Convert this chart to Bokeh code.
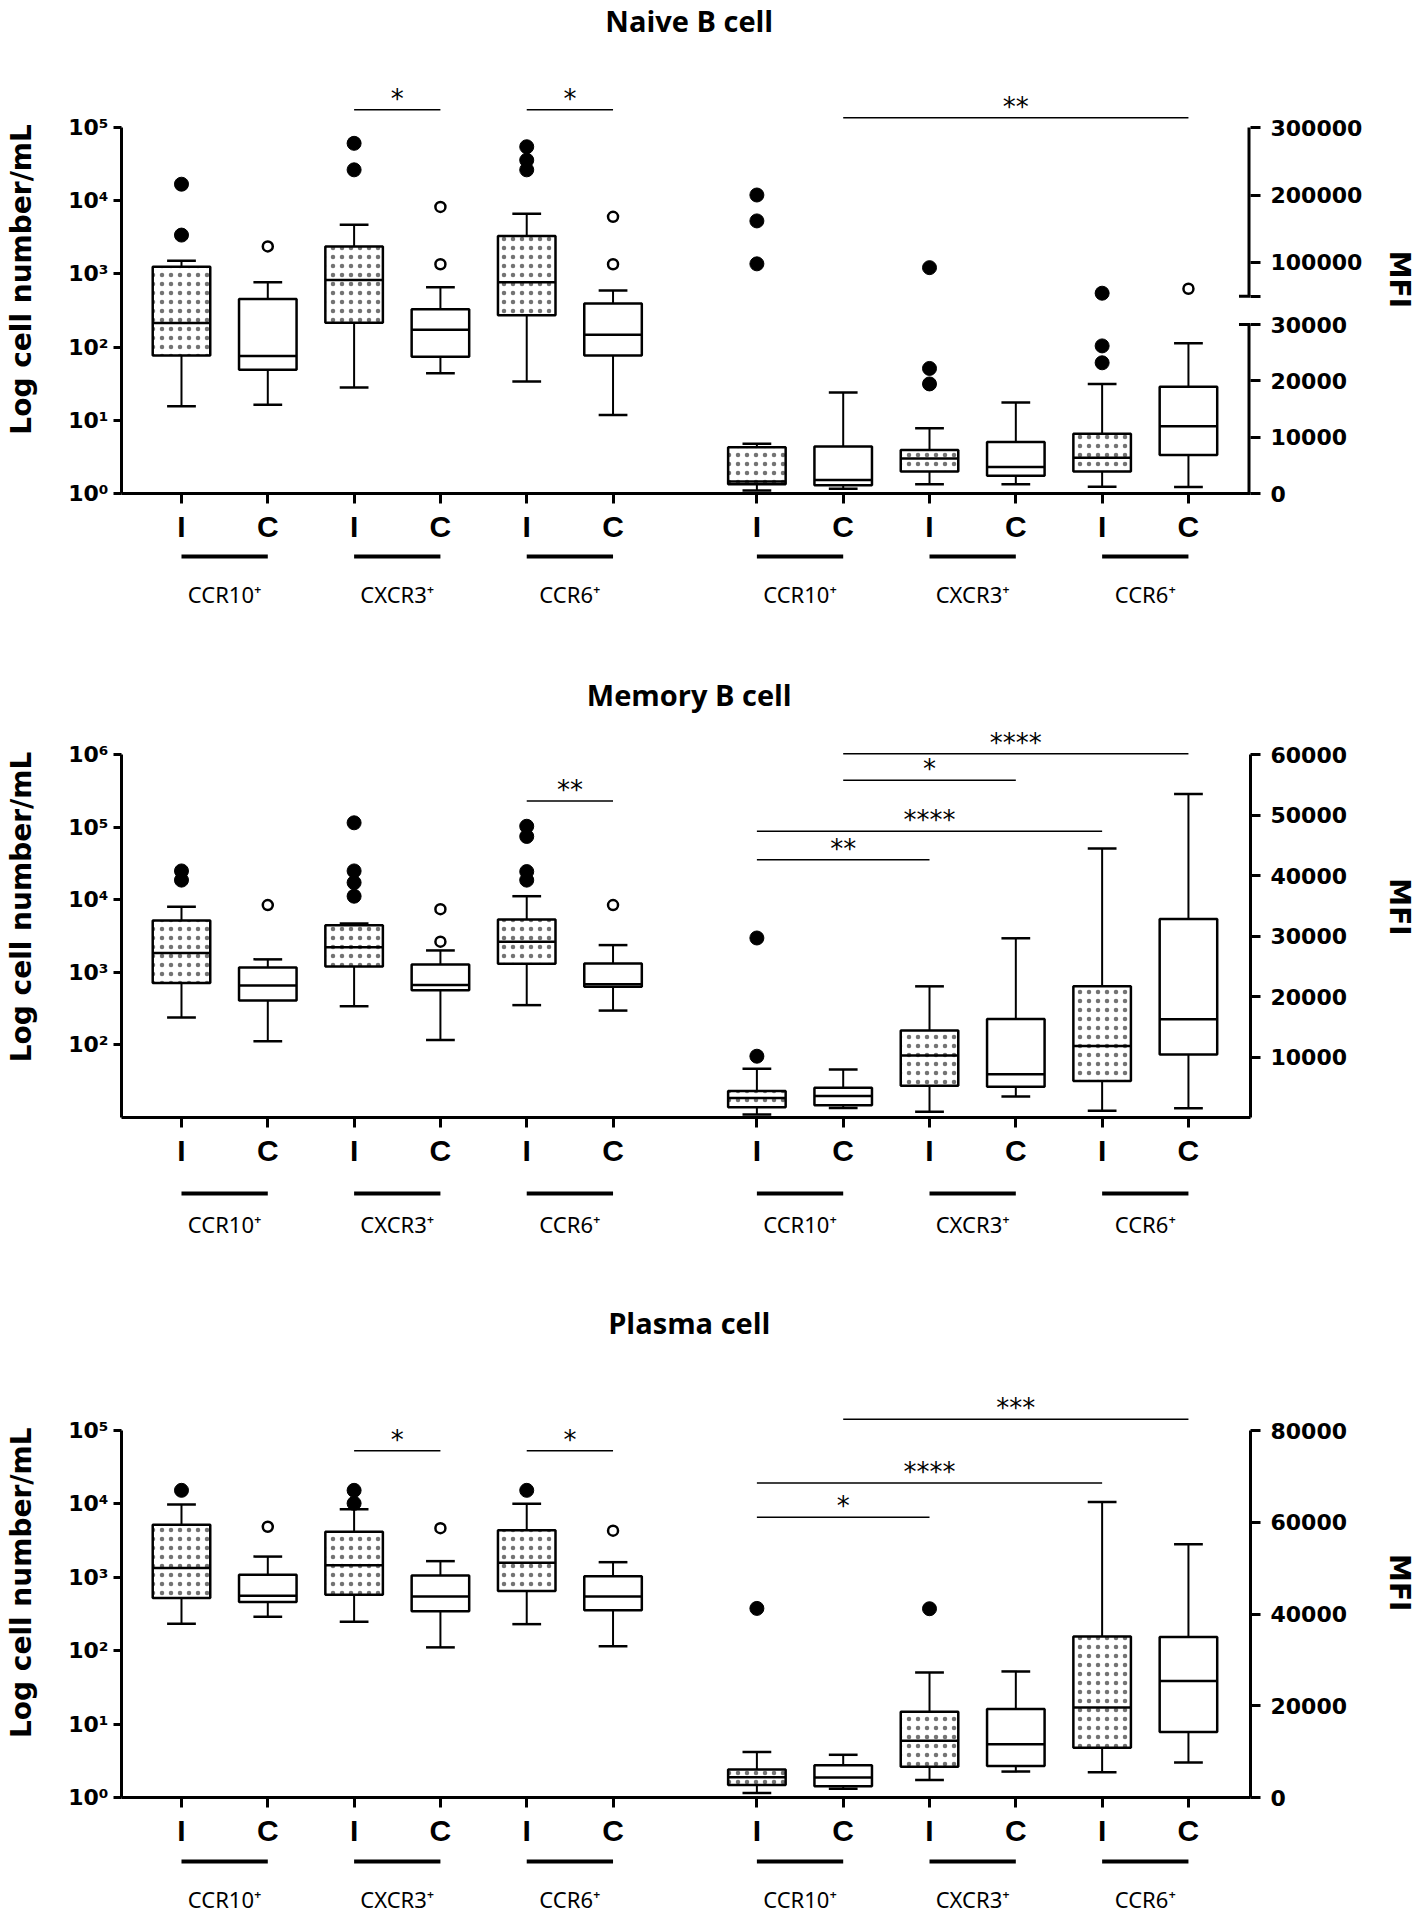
import math
from bokeh.plotting import figure
from bokeh.models import Range1d, LinearAxis, FixedTicker, ColumnDataSource, LinearScale
from bokeh.layouts import column, row
from bokeh.core.properties import value
from bokeh.embed import file_html
from bokeh.resources import INLINE

# ---------------- data ----------------
groups = ["CCR10⁺", "CXCR3⁺", "CCR6⁺"]
conditions = ["I", "C"]
titles = ["Naive B cell", "Memory B cell", "Plasma cell"]
y_title = "Log cell number/mL"
y2_title = "MFI"

# Naive B cell - cell number (log)   order: CCR10 I, CCR10 C, CXCR3 I, CXCR3 C, CCR6 I, CCR6 C
naive_cnt_lo = [15.6, 16.3, 28, 44, 34, 11.8]
naive_cnt_q1 = [77, 49, 215, 74, 273, 77]
naive_cnt_med = [213, 75.5, 823, 173, 771, 148]
naive_cnt_q3 = [1255, 454, 2376, 328, 3283, 395]
naive_cnt_hi = [1507, 771, 4690, 656, 6630, 595]
naive_cnt_out = [[16800, 3390], [2376], [60800, 26400], [8230, 1353], [54600, 35800, 26400], [6020, 1353]]
# Naive B cell - MFI
naive_mfi_lo = [550, 850, 1650, 1650, 1220, 1160]
naive_mfi_q1 = [1650, 1460, 3900, 3170, 3900, 6830]
naive_mfi_med = [2130, 2380, 6220, 4700, 6340, 11950]
naive_mfi_q3 = [8230, 8350, 7740, 9150, 10610, 18960]
naive_mfi_hi = [8840, 17930, 11590, 16160, 19450, 26650]
naive_mfi_out = [[200000, 161600, 98000], [], [92400, 22200, 19450], [], [54500, 26200, 23200], [61100]]

# Memory B cell - cell number (log)
mem_cnt_lo = [239, 112, 341, 117, 353, 297]
mem_cnt_q1 = [713, 410, 1200, 568, 1310, 631]
mem_cnt_med = [1850, 660, 2220, 668, 2640, 683]
mem_cnt_q3 = [5170, 1161, 4450, 1280, 5350, 1320]
mem_cnt_hi = [7980, 1507, 4700, 2000, 11170, 2370]
mem_cnt_out = [[24900, 18600], [8430], [114600, 24900, 17200, 11170], [7400, 2640],
               [102700, 74300, 24400, 18600], [8430]]
# Memory B cell - MFI
mem_mfi_lo = [507, 1580, 960, 3490, 1130, 1520]
mem_mfi_q1 = [1690, 2030, 5240, 5070, 6020, 10420]
mem_mfi_med = [3210, 3550, 10250, 7150, 11820, 16220]
mem_mfi_q3 = [4390, 4900, 14360, 16270, 21680, 32830]
mem_mfi_hi = [8050, 7940, 21680, 29620, 44480, 53490]
mem_mfi_out = [[29670, 10130], [], [], [], [], []]

# Plasma cell - cell number (log)
pc_cnt_lo = [232, 290, 248, 111, 230, 115]
pc_cnt_q1 = [524, 459, 578, 345, 653, 357]
pc_cnt_med = [1334, 560, 1456, 548, 1573, 548]
pc_cnt_q3 = [5210, 1082, 4180, 1059, 4370, 1036]
pc_cnt_hi = [9840, 1915, 8450, 1660, 10070, 1607]
pc_cnt_out = [[15300], [4880], [15300, 10180], [4670], [15300], [4320]]
# Plasma cell - MFI
pc_mfi_lo = [990, 1910, 3820, 5650, 5500, 7630]
pc_mfi_q1 = [2750, 2440, 6720, 6870, 10840, 14270]
pc_mfi_med = [4430, 4350, 12370, 11600, 19620, 25420]
pc_mfi_q3 = [6110, 7020, 18700, 19310, 35110, 34960]
pc_mfi_hi = [9920, 9310, 27250, 27480, 64430, 55190]
pc_mfi_out = [[41220], [], [41150], [], [], []]

# significance bars: boxes 0-5 = cell number, 6-11 = MFI
naive_sig_from = [2, 4, 7]
naive_sig_to = [3, 5, 11]
naive_sig_y = [175000, 175000, 314600]
naive_sig_lab = ["*", "*", "**"]
mem_sig_from = [4, 7, 7, 6, 6]
mem_sig_to = [5, 11, 9, 10, 8]
mem_sig_y = [229000, 60140, 55740, 47300, 42620]
mem_sig_lab = ["**", "****", "*", "****", "**"]
pc_sig_from = [2, 4, 7, 6, 6]
pc_sig_to = [3, 5, 11, 10, 8]
pc_sig_y = [52900, 52900, 82440, 68550, 61070]
pc_sig_lab = ["*", "*", "***", "****", "*"]

# ---------------- layout ----------------
FIG_W = 1417
SIDE_L, SIDE_R = 40, 40
B_LEFT, B_RIGHT = 121 - SIDE_L, FIG_W - 1250 - SIDE_R
MAIN_W = FIG_W - SIDE_L - SIDE_R
XPOS = [0, 3, 6, 9, 12, 15, 20, 23, 26, 29, 32, 35]
X_LO, X_HI = -2.085, 37.157
BOX_HW, CAP_HW = 1.0, 0.5
TITLE_X = 17.65
BOTTOM = 55
SUP = {0: "⁰", 1: "¹", 2: "²", 3: "³", 4: "⁴", 5: "⁵", 6: "⁶"}
BOLD_FONT = "DejaVu Sans"

# panel geometry (page pixel rows)
G1 = dict(top=0, axis_top=127, axis_bot=493, log_lo=0, log_hi=5,
          broken=True, y30k=324, y100k=262, strip_h=124, underline=8, label=45, title_y=20)
G2 = dict(top=672, axis_top=754, axis_bot=1117, log_lo=1, log_hi=6,
          broken=False, mfi_top=60000, mfi_ticks=[10000, 20000, 30000, 40000, 50000, 60000],
          strip_h=128, underline=21, label=51, title_y=694)
G3 = dict(top=1300, axis_top=1430, axis_bot=1797, log_lo=0, log_hi=5,
          broken=False, mfi_top=80000, mfi_ticks=[0, 20000, 40000, 60000, 80000],
          strip_h=66, underline=9, label=46, title_y=1322)


def style_axis(ax, tick_out=10):
    ax.axis_line_width = 3
    ax.axis_line_color = "black"
    ax.major_tick_line_width = 3
    ax.major_tick_line_color = "black"
    ax.major_tick_out = tick_out
    ax.major_tick_in = 0
    ax.minor_tick_line_color = None
    ax.major_label_text_color = "black"
    ax.major_label_text_font = BOLD_FONT
    ax.major_label_text_font_style = "bold"
    ax.major_label_text_font_size = "22px"


def plain_fig(w, h, x_range, y_range):
    f = figure(width=w, height=h, x_range=x_range, y_range=y_range, output_backend="svg",
               toolbar_location=None, min_border_left=0, min_border_right=0, min_border_top=0,
               min_border_bottom=0, x_axis_location=None, y_axis_location=None)
    f.outline_line_color = None
    f.grid.visible = False
    return f


def draw_boxes(p, xs, lo, q1, med, q3, hi, rname):
    d = dict(x=xs, left=[x - BOX_HW for x in xs], right=[x + BOX_HW for x in xs],
             cl=[x - CAP_HW for x in xs], cr=[x + CAP_HW for x in xs],
             lo=lo, q1=q1, med=med, q3=q3, hi=hi)
    src = ColumnDataSource(d)
    p.segment("x", "q3", "x", "hi", source=src, y_range_name=rname, line_width=2, line_color="black")
    p.segment("x", "q1", "x", "lo", source=src, y_range_name=rname, line_width=2, line_color="black")
    p.segment("cl", "hi", "cr", "hi", source=src, y_range_name=rname, line_width=2.5, line_color="black")
    p.segment("cl", "lo", "cr", "lo", source=src, y_range_name=rname, line_width=2.5, line_color="black")
    isrc = ColumnDataSource({k: v[0::2] for k, v in d.items()})
    csrc = ColumnDataSource({k: v[1::2] for k, v in d.items()})
    p.quad(left="left", right="right", top="q3", bottom="q1", source=isrc, y_range_name=rname,
           fill_color="white", line_color="black", line_width=2.5,
           hatch_pattern="dot", hatch_color="black", hatch_scale=9, hatch_alpha=0.55)
    p.quad(left="left", right="right", top="q3", bottom="q1", source=csrc, y_range_name=rname,
           fill_color="white", line_color="black", line_width=2.5)
    p.segment("left", "med", "right", "med", source=src, y_range_name=rname, line_width=2.5, line_color="black")


def draw_outliers(p, xs, outs, rname, keep=lambda v: True):
    fx, fy, ox, oy = [], [], [], []
    for i, (x, vals) in enumerate(zip(xs, outs)):
        for v in vals:
            if not keep(v):
                continue
            if i % 2 == 0:
                fx.append(x); fy.append(v)
            else:
                ox.append(x); oy.append(v)
    if fx:
        p.scatter(fx, fy, y_range_name=rname, size=14, fill_color="black", line_color="black")
    if ox:
        p.scatter(ox, oy, y_range_name=rname, size=10, fill_color="white", line_color="black", line_width=2.5)


def make_panel(title, g, cnt, mfi, sig):
    top, at, ab = g["top"], g["axis_top"], g["axis_bot"]
    dec = (ab - at) / (g["log_hi"] - g["log_lo"])
    log_v = lambda y: 10 ** (g["log_lo"] + (ab - y) / dec)
    log_y = lambda v: ab - (math.log10(v) - g["log_lo"]) * dec
    if g["broken"]:
        lo_per = 30000 / (ab - g["y30k"])
        hi_per = 200000 / (g["y100k"] - at)
        lo_v = lambda y: (ab - y) * lo_per
        hi_v = lambda y: 300000 + (at - y) * hi_per
        r_y = lambda v: at - (v - 300000) / hi_per
        rname = "hi"
        extra = {"lo": (lo_v(ab), lo_v(top)), "hi": (hi_v(ab), hi_v(top))}
    else:
        per = g["mfi_top"] / (ab - at)
        r_y = lambda v: ab - v / per
        rname = "mfi"
        extra = {"mfi": (0, (ab - top) * per)}
    extra["px"] = (ab, top)

    H = ab - top + BOTTOM
    xr = Range1d(X_LO, X_HI)
    p = figure(width=MAIN_W, height=H, x_range=xr, y_range=Range1d(log_v(ab), log_v(top)),
               y_axis_type="log", output_backend="svg", toolbar_location=None,
               min_border_left=B_LEFT, min_border_right=B_RIGHT, min_border_top=0,
               min_border_bottom=BOTTOM)
    p.outline_line_color = None
    p.grid.visible = False
    p.extra_y_ranges = {k: Range1d(start=v[0], end=v[1]) for k, v in extra.items()}
    p.extra_y_scales = {k: LinearScale() for k in extra}

    # title
    p.text([TITLE_X], [g["title_y"]], text=[title], y_range_name="px", text_align="center",
           text_baseline="middle", text_font=value("Open Sans"), text_font_style="bold",
           text_font_size="29px", text_color="black")

    # left log axis
    ly = p.yaxis[0]
    style_axis(ly, tick_out=8)
    first = g["log_lo"] + (1 if g["log_lo"] > 0 else 0)
    log_ticks = [10 ** k for k in range(first, g["log_hi"] + 1)]
    ly.ticker = FixedTicker(ticks=log_ticks)
    ly.major_label_overrides = {t: "10" + SUP[len(str(t)) - 1] for t in log_ticks}
    ly.bounds = (10 ** g["log_lo"], 10 ** g["log_hi"])
    ly.major_label_standoff = 5

    # bottom axis
    bx = p.xaxis[0]
    style_axis(bx, tick_out=10)
    bx.ticker = FixedTicker(ticks=XPOS)
    bx.major_label_overrides = {x: conditions[i % 2] for i, x in enumerate(XPOS)}
    bx.major_label_text_font = "Liberation Sans"
    bx.major_label_text_font_size = "30px"
    bx.major_label_standoff = 6

    xs_l, xs_r = XPOS[:6], XPOS[6:]
    draw_boxes(p, xs_l, *cnt[:5], "default")
    draw_outliers(p, xs_l, cnt[5], "default")

    if g["broken"]:
        low_ticks = [0, 10000, 20000, 30000]
        high_ticks = [50000, 100000, 200000, 300000]
        ticks = low_ticks + [int(round(lo_v(r_y(v)))) for v in high_ticks]
        labels = [str(v) for v in low_ticks] + [""] + [str(v) for v in high_ticks[1:]]
        ra = LinearAxis(y_range_name="lo", ticker=FixedTicker(ticks=ticks))
        style_axis(ra)
        ra.major_label_overrides = dict(zip(ticks, labels))
        ra.axis_line_color = None
        p.segment([X_HI], [0], [X_HI], [30000], y_range_name="lo", line_width=6, line_color="black")
        p.segment([X_HI], [50000], [X_HI], [300000], y_range_name="hi", line_width=6, line_color="black")
        p.segment([X_HI - 0.4], [30000], [X_HI], [30000], y_range_name="lo", line_width=3, line_color="black")
        p.segment([X_HI - 0.4], [50000], [X_HI], [50000], y_range_name="hi", line_width=3, line_color="black")
        draw_boxes(p, xs_r, *mfi[:5], "lo")
        draw_outliers(p, xs_r, mfi[5], "lo", keep=lambda v: v <= 30000)
        draw_outliers(p, xs_r, mfi[5], "hi", keep=lambda v: v > 30000)
    else:
        ra = LinearAxis(y_range_name="mfi", ticker=FixedTicker(ticks=g["mfi_ticks"]), bounds=(0, g["mfi_top"]))
        style_axis(ra)
        ra.major_label_overrides = {t: str(t) for t in g["mfi_ticks"]}
        draw_boxes(p, xs_r, *mfi[:5], "mfi")
        draw_outliers(p, xs_r, mfi[5], "mfi")
    ra.major_label_standoff = 10
    p.add_layout(ra, "right")

    # significance bars
    for i0, i1, v, lab in zip(*sig):
        left = i0 < 6
        y_ref = log_y(v) if left else r_y(v)
        p.segment([XPOS[i0]], [v], [XPOS[i1]], [v], y_range_name="default" if left else rname,
                  line_width=1.5, line_color="black")
        p.text([(XPOS[i0] + XPOS[i1]) / 2], [y_ref - 11], text=[lab], y_range_name="px",
               text_align="center", text_baseline="middle", text_font=value("DejaVu Sans"),
               text_font_size="26px", text_color="black")

    # side axis titles
    ymid = (at + ab) / 2
    lf = plain_fig(SIDE_L, H, Range1d(0, SIDE_L), Range1d(start=top + H, end=top))
    lf.text([21], [ymid], text=[y_title], angle=math.pi / 2, text_align="center",
            text_baseline="middle", text_font=value(BOLD_FONT), text_font_style="bold",
            text_font_size="28px", text_color="black")
    rf = plain_fig(SIDE_R, H, Range1d(0, SIDE_R), Range1d(start=top + H, end=top))
    rf.text([22], [ymid], text=[y2_title], angle=-math.pi / 2, text_align="center",
            text_baseline="middle", text_font=value(BOLD_FONT), text_font_style="bold",
            text_font_size="28px", text_color="black")

    # group strip below the axis
    sh = g["strip_h"]
    s = plain_fig(MAIN_W, sh, xr, Range1d(start=sh, end=0))
    s.min_border_left = B_LEFT
    s.min_border_right = B_RIGHT
    x0 = [XPOS[2 * k] for k in range(6)]
    x1 = [XPOS[2 * k + 1] for k in range(6)]
    s.segment(x0, [g["underline"]] * 6, x1, [g["underline"]] * 6, line_width=4, line_color="black")
    s.text([(a + b) / 2 for a, b in zip(x0, x1)], [g["label"]] * 6, text=groups * 2,
           text_align="center", text_baseline="middle", text_font=value("Noto Sans"),
           text_font_size="22px", text_color="black")
    sl = plain_fig(SIDE_L, sh, Range1d(0, 1), Range1d(0, 1))
    sr = plain_fig(SIDE_R, sh, Range1d(0, 1), Range1d(0, 1))
    return [row(lf, p, rf, spacing=0), row(sl, s, sr, spacing=0)]


items = []
items += make_panel(titles[0], G1,
                    (naive_cnt_lo, naive_cnt_q1, naive_cnt_med, naive_cnt_q3, naive_cnt_hi, naive_cnt_out),
                    (naive_mfi_lo, naive_mfi_q1, naive_mfi_med, naive_mfi_q3, naive_mfi_hi, naive_mfi_out),
                    (naive_sig_from, naive_sig_to, naive_sig_y, naive_sig_lab))
items += make_panel(titles[1], G2,
                    (mem_cnt_lo, mem_cnt_q1, mem_cnt_med, mem_cnt_q3, mem_cnt_hi, mem_cnt_out),
                    (mem_mfi_lo, mem_mfi_q1, mem_mfi_med, mem_mfi_q3, mem_mfi_hi, mem_mfi_out),
                    (mem_sig_from, mem_sig_to, mem_sig_y, mem_sig_lab))
items += make_panel(titles[2], G3,
                    (pc_cnt_lo, pc_cnt_q1, pc_cnt_med, pc_cnt_q3, pc_cnt_hi, pc_cnt_out),
                    (pc_mfi_lo, pc_mfi_q1, pc_mfi_med, pc_mfi_q3, pc_mfi_hi, pc_mfi_out),
                    (pc_sig_from, pc_sig_to, pc_sig_y, pc_sig_lab))

layout = column(*items, spacing=0)
open("out.html", "w").write(file_html(layout, INLINE))
